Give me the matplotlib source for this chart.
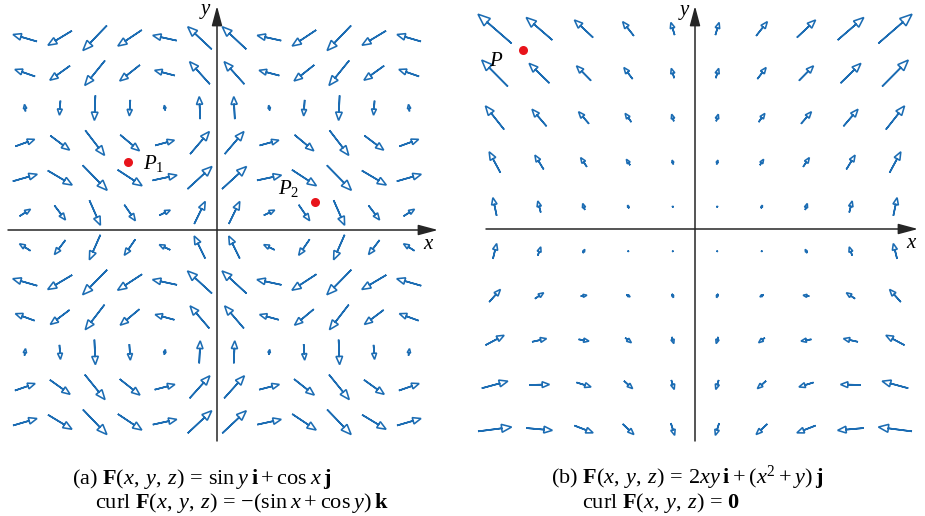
import numpy as np
import matplotlib
matplotlib.use('Agg')
from matplotlib import pyplot as plt

plt.rcParams['font.family'] = 'Liberation Serif'
plt.rcParams['mathtext.fontset'] = 'custom'
plt.rcParams['mathtext.rm'] = 'Liberation Serif'
plt.rcParams['mathtext.it'] = 'Liberation Serif:italic'
plt.rcParams['mathtext.bf'] = 'Liberation Serif:bold'

BLUE = '#1b6cb3'
AXC = '#262626'

# (a) grid and field values (field = sin y i + cos x j)
xa = [-5.0, -4.09, -3.18, -2.27, -1.36, -0.45, 0.45, 1.36, 2.27, 3.18, 4.09, 5.0]
ya = [5.0, 4.09, 3.18, 2.27, 1.36, 0.45, -0.45, -1.36, -2.27, -3.18, -4.09, -5.0]
ua_rows = [-0.96, -0.81, -0.04, 0.77, 0.98, 0.44, -0.44, -0.98, -0.77, 0.04, 0.81, 0.96]
va_cols = [0.28, -0.58, -1.0, -0.64, 0.21, 0.90, 0.90, 0.21, -0.64, -1.0, -0.58, 0.28]
P1 = (-2.32, 1.77)
P2 = (2.55, 0.73)

# (b) grid and field values (field = 2xy i + (x^2+y) j)
xb = [-1.35, -1.05, -0.75, -0.45, -0.15, 0.15, 0.45, 0.75, 1.05, 1.35]
yb = [1.35, 1.05, 0.75, 0.45, 0.15, -0.15, -0.45, -0.75, -1.05, -1.35]
ub = [
    [-3.65, -2.84, -2.03, -1.22, -0.41, 0.41, 1.22, 2.03, 2.84, 3.65],
    [-2.84, -2.21, -1.58, -0.95, -0.32, 0.32, 0.95, 1.58, 2.21, 2.84],
    [-2.03, -1.58, -1.13, -0.68, -0.23, 0.23, 0.68, 1.13, 1.58, 2.03],
    [-1.22, -0.95, -0.68, -0.41, -0.14, 0.14, 0.41, 0.68, 0.95, 1.22],
    [-0.41, -0.32, -0.23, -0.14, -0.05, 0.05, 0.14, 0.23, 0.32, 0.41],
    [0.41, 0.32, 0.23, 0.14, 0.05, -0.05, -0.14, -0.23, -0.32, -0.41],
    [1.22, 0.95, 0.68, 0.41, 0.14, -0.14, -0.41, -0.68, -0.95, -1.22],
    [2.03, 1.58, 1.13, 0.68, 0.23, -0.23, -0.68, -1.13, -1.58, -2.03],
    [2.84, 2.21, 1.58, 0.95, 0.32, -0.32, -0.95, -1.58, -2.21, -2.84],
    [3.65, 2.84, 2.03, 1.22, 0.41, -0.41, -1.22, -2.03, -2.84, -3.65],
]
vb = [
    [3.17, 2.45, 1.91, 1.55, 1.37, 1.37, 1.55, 1.91, 2.45, 3.17],
    [2.87, 2.15, 1.61, 1.25, 1.07, 1.07, 1.25, 1.61, 2.15, 2.87],
    [2.57, 1.85, 1.31, 0.95, 0.77, 0.77, 0.95, 1.31, 1.85, 2.57],
    [2.27, 1.55, 1.01, 0.65, 0.47, 0.47, 0.65, 1.01, 1.55, 2.27],
    [1.97, 1.25, 0.71, 0.35, 0.17, 0.17, 0.35, 0.71, 1.25, 1.97],
    [1.67, 0.95, 0.41, 0.05, -0.13, -0.13, 0.05, 0.41, 0.95, 1.67],
    [1.37, 0.65, 0.11, -0.25, -0.43, -0.43, -0.25, 0.11, 0.65, 1.37],
    [1.07, 0.35, -0.19, -0.55, -0.73, -0.73, -0.55, -0.19, 0.35, 1.07],
    [0.77, 0.05, -0.49, -0.85, -1.03, -1.03, -0.85, -0.49, 0.05, 0.77],
    [0.47, -0.25, -0.79, -1.15, -1.33, -1.33, -1.15, -0.79, -0.25, 0.47],
]
P = (-1.16, 1.21)

W, H = 925, 516
fig = plt.figure(figsize=(W/100., H/100.), dpi=100)


def make_axes(x0, x1, y0, y1, cx, cy, pxu):
    # pixel box of the panel -> axes with equal px per unit
    ax = fig.add_axes([x0/W, (H - y1)/H, (x1 - x0)/W, (y1 - y0)/H])
    ax.set_xlim((x0 - cx)/pxu, (x1 - cx)/pxu)
    ax.set_ylim((cy - y1)/pxu, (cy - y0)/pxu)
    ax.axis('off')
    return ax


def draw_axes(ax, xl, xr, yb_, yt):
    ap = dict(arrowstyle='-|>,head_length=0.75,head_width=0.2', color=AXC, lw=1.1,
              mutation_scale=16, shrinkA=0, shrinkB=0)
    ax.annotate('', xy=(xr, 0), xytext=(xl, 0), arrowprops=ap)
    ax.annotate('', xy=(0, yt), xytext=(0, yb_), arrowprops=ap)


def draw_field(ax, xs, ys, U, V, k, pxu):
    for i, yv in enumerate(ys):
        for j, xv in enumerate(xs):
            dx = U[i][j]*k
            dy = V[i][j]*k
            L = np.hypot(dx, dy)*pxu
            hl = min(3.2 + 0.2*L, 0.6*L)
            ax.arrow(xv - dx/2, yv - dy/2, dx, dy, width=0,
                     head_width=0.8*hl/pxu, head_length=hl/pxu,
                     length_includes_head=True, fc='white', ec=BLUE, lw=1.15,
                     joinstyle='miter')


# panel (a)
pa = 38.4
axa = make_axes(0, 445, 0, 445, 217, 230, pa)
draw_axes(axa, (8 - 217)/pa, (438 - 217)/pa, (230 - 441)/pa, (230 - 6)/pa)
Ua = np.tile(np.array(ua_rows)[:, None], (1, len(xa)))
Va = np.tile(np.array(va_cols)[None, :], (len(ya), 1))
draw_field(axa, xa, ya, Ua, Va, 25/pa, pa)
axa.plot(*P1, 'o', color='#e8141b', ms=6.5, mec='none', zorder=5)
axa.plot(*P2, 'o', color='#e8141b', ms=6.5, mec='none', zorder=5)
axa.text(P1[0] + 0.38, P1[1] - 0.05, '$P_1$', fontsize=15, va='center', ha='left')
axa.text(P2[0] - 0.95, P2[1] + 0.35, '$P_2$', fontsize=15, va='center', ha='left')
axa.text(-0.12, 5.7, '$y$', fontsize=15, ha='right', va='center')
axa.text(5.5, -0.38, '$x$', fontsize=15, ha='center', va='center')

# panel (b)
pb = 148.3
axb = make_axes(465, 925, 0, 445, 695, 229, pb)
draw_axes(axb, (486 - 695)/pb, (918 - 695)/pb, (229 - 441)/pb, (229 - 6)/pb)
draw_field(axb, xb, yb, ub, vb, 9.2/pb, pb)
axb.plot(*P, 'o', color='#e8141b', ms=6.5, mec='none', zorder=5)
axb.text(P[0] - 0.18, P[1] - 0.08, '$P$', fontsize=15, ha='center', va='center')
axb.text(-0.03, 1.46, '$y$', fontsize=15, ha='right', va='center')
axb.text(1.46, -0.1, '$x$', fontsize=15, ha='center', va='center')

# captions
fs = 16
fig.text(72/W, 1 - 484/H,
         r'(a) $\mathbf{F}(x,\:y,\:z)\,=\,\mathrm{sin}\:y\:\mathbf{i}\:+\:\mathrm{cos}\:x\:\mathbf{j}$',
         fontsize=fs, va='baseline')
fig.text(95/W, 1 - 508/H,
         r'curl $\mathbf{F}(x,\:y,\:z)\,=\,{-}(\mathrm{sin}\:x\:+\:\mathrm{cos}\:y)\:\mathbf{k}$',
         fontsize=fs, va='baseline')
fig.text(551/W, 1 - 484/H,
         r'(b) $\mathbf{F}(x,\:y,\:z)\,=\,2xy\:\mathbf{i}\:+\:(x^2\:+\:y)\:\mathbf{j}$',
         fontsize=fs, va='baseline')
fig.text(582/W, 1 - 508/H, r'curl $\mathbf{F}(x,\:y,\:z)\,=\,\mathbf{0}$',
         fontsize=fs, va='baseline')

fig.savefig('out.png', dpi=100)
